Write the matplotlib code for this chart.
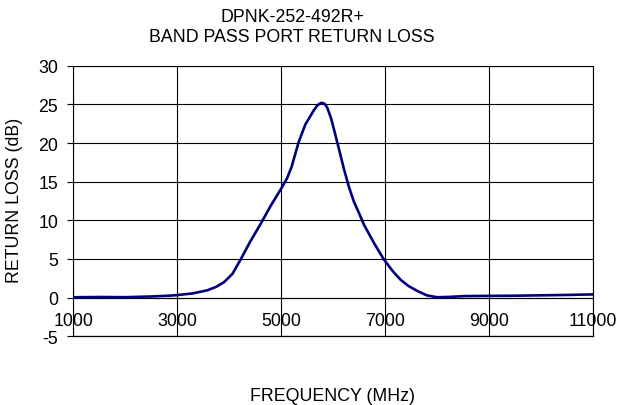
import matplotlib
matplotlib.use("Agg")
import matplotlib.pyplot as plt

plt.rcParams['font.family'] = ['Liberation Sans', 'DejaVu Sans']

freq = [1000, 1500, 2000, 2500, 2870, 3000, 3300, 3580, 3750, 3900, 4065, 4225, 4400,
        4610, 4800, 5000, 5110, 5200, 5335, 5465, 5625, 5700, 5770, 5830, 5885, 5960,
        6045, 6120, 6205, 6300, 6400, 6500, 6595, 6800, 6980, 7150, 7300, 7450, 7625,
        7800, 8000, 8250, 8520, 9000, 9500, 10000, 10500, 11000]
rl = [0.05, 0.08, 0.06, 0.15, 0.26, 0.33, 0.55, 0.95, 1.4, 2.0, 3.1, 5.0, 7.2,
      9.6, 11.9, 14.1, 15.4, 16.9, 20.1, 22.4, 24.2, 24.9, 25.2, 25.1, 24.6, 23.2,
      21.0, 19.0, 16.7, 14.4, 12.4, 10.9, 9.4, 6.9, 4.9, 3.4, 2.3, 1.5, 0.85,
      0.3, 0.05, 0.1, 0.2, 0.23, 0.25, 0.3, 0.35, 0.42]

xticks = [1000, 3000, 5000, 7000, 9000, 11000]
yticks = [-5, 0, 5, 10, 15, 20, 25, 30]

FS = 12.8

fig = plt.figure(figsize=(6.2, 4.06), dpi=100)
ax = fig.add_axes([73.3/620, 1-337.3/406, (593-73.3)/620, (337.3-66.7)/406])
ax.spines['bottom'].set_position(('data', 0))

ax.plot(freq, rl, color='#000080', lw=1.9, zorder=3, solid_capstyle='round')
ax.set_xlim(1000, 11000)
ax.set_ylim(-5, 30)
ax.set_xticks(xticks)
ax.set_yticks(yticks)
ax.set_xticklabels([str(v) for v in xticks])
ax.set_yticklabels([str(v) for v in yticks])
ax.tick_params(axis='x', length=0, pad=10, labelsize=FS)
ax.tick_params(axis='y', direction='out', length=4, width=0.8, pad=7, labelsize=FS)
ax.grid(True, color='black', lw=0.8)
for s in ax.spines.values():
    s.set_linewidth(0.8)
ax.axhline(-5, color='black', lw=0.9, clip_on=False)

fig.text(292/620, 1-17/406, 'DPNK-252-492R+', ha='center', va='center', fontsize=FS)
fig.text(292/620, 1-37/406, 'BAND PASS PORT RETURN LOSS', ha='center', va='center', fontsize=FS)
fig.text(333/620, 1-397/406, 'FREQUENCY (MHz)', ha='center', va='center', fontsize=FS)
fig.text(15/620, 1-200/406, 'RETURN LOSS (dB)', ha='center', va='center', rotation=90, fontsize=FS)

fig.savefig('out.png', dpi=100)
